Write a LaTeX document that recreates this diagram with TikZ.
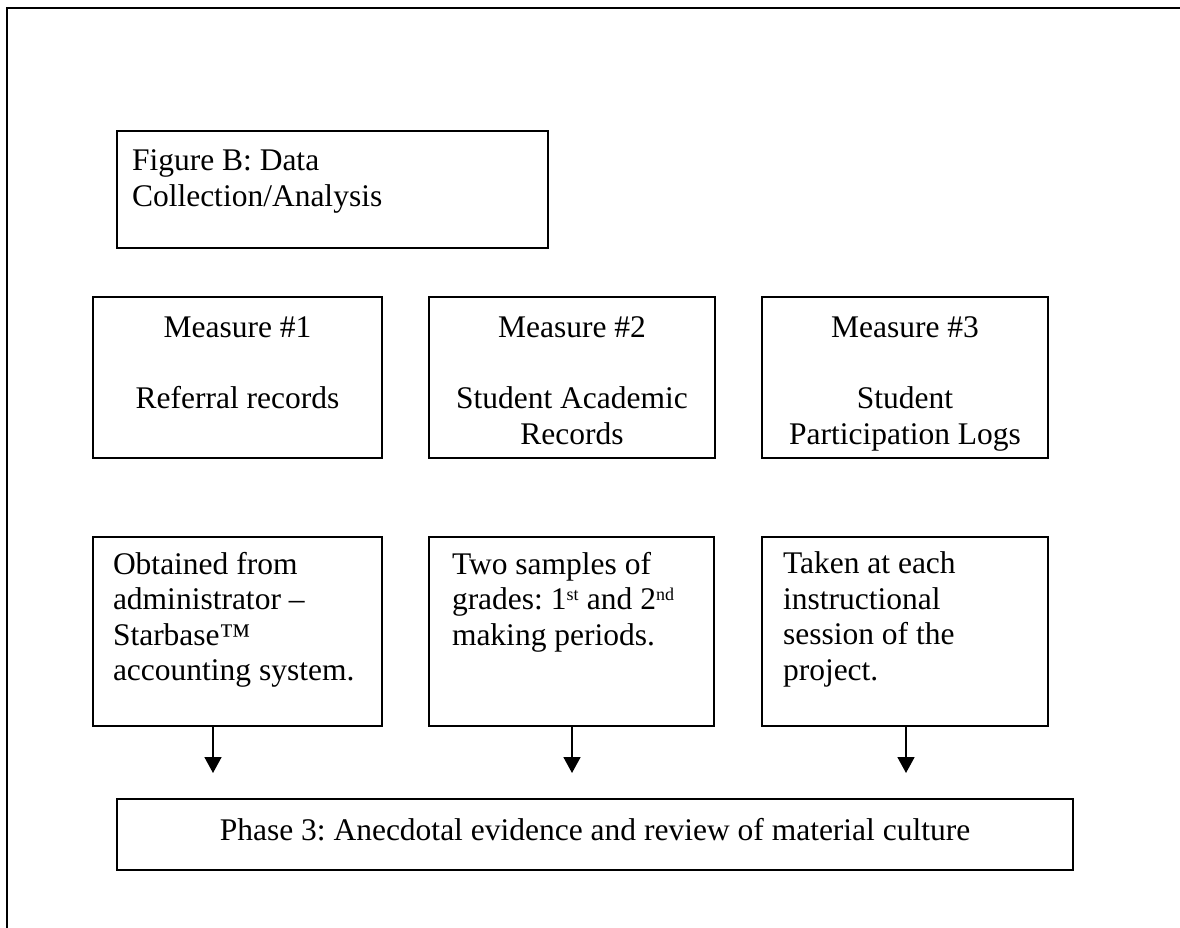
\documentclass[tikz,border=0pt]{standalone}
\usepackage{fontspec}
\setmainfont{Liberation Serif}
\usetikzlibrary{arrows.meta,calc}
\newcommand{\supsmall}[1]{\textsuperscript{\fontsize{18}{18}\selectfont #1}}
\frenchspacing
\begin{document}
\begin{tikzpicture}[x=1pt,y=-1pt,
  frameline/.style={line width=1.7pt},
  boxnode/.style={draw, line width=1.8pt, anchor=north west, inner sep=0pt, outer sep=0pt},
  txt/.style={font=\fontsize{31.5}{35.5}\selectfont, inner sep=0pt, outer sep=0pt},
  flow/.style={line width=1.7pt, -{Triangle[width=17pt,length=16pt]}}]
\useasboundingbox (0,0) rectangle (1180,928);
% outer frame (only top and left edges visible)
\coordinate (fbl) at (7,928);
\coordinate (ftl) at (7,8);
\coordinate (ftr) at (1180,8);
\draw[frameline] (fbl) -- (ftl) -- (ftr);
% title
\node[boxnode, minimum width=431pt, minimum height=117pt] (title) at (117,131) {};
\node[txt, align=left, anchor=base west, font=\fontsize{31.5}{36.5}\selectfont] (titletext) at (132,207) {Figure B: Data\\Collection/Analysis};
% measures
\node[boxnode, minimum width=289pt, minimum height=161pt] (m1) at (93,297) {};
\node[boxnode, minimum width=286pt, minimum height=161pt] (m2) at (429,297) {};
\node[boxnode, minimum width=286pt, minimum height=161pt] (m3) at (762,297) {};
\node[txt, align=center, anchor=base] (m1t) at (237.5,408) {Measure \#1\\[35.5pt]Referral records};
\node[txt, align=center, anchor=base] (m2t) at (572,444) {Measure \#2\\[35.5pt]Student Academic\\Records};
\node[txt, align=center, anchor=base] (m3t) at (905,444) {Measure \#3\\[35.5pt]Student\\Participation Logs};
% details
\node[boxnode, minimum width=289pt, minimum height=189pt] (d1) at (93,537) {};
\node[boxnode, minimum width=285pt, minimum height=189pt] (d2) at (429,537) {};
\node[boxnode, minimum width=286pt, minimum height=189pt] (d3) at (762,537) {};
\node[txt, align=left, anchor=base west] (d1t) at (113,680.5) {Obtained from\\administrator --\\Starbase™\\accounting system.};
\node[txt, align=left, anchor=base west] (d2t) at (452,645) {Two samples of\\grades: 1\supsmall{st} and 2\supsmall{nd}\\making periods.};
\node[txt, align=left, anchor=base west] (d3t) at (783,680) {Taken at each\\instructional\\session of the\\project.};
% phase
\node[boxnode, minimum width=956pt, minimum height=71pt] (phase) at (117,799) {};
\node[txt, anchor=base] (phaset) at (595,840) {Phase 3: Anecdotal evidence and review of material culture};
% arrows
\coordinate (a1) at (213,773);
\coordinate (a2) at (572,773);
\coordinate (a3) at (906,773);
\draw[flow] (a1 |- d1.south) -- (a1);
\draw[flow] (a2 |- d2.south) -- (a2);
\draw[flow] (a3 |- d3.south) -- (a3);
\end{tikzpicture}
\end{document}
